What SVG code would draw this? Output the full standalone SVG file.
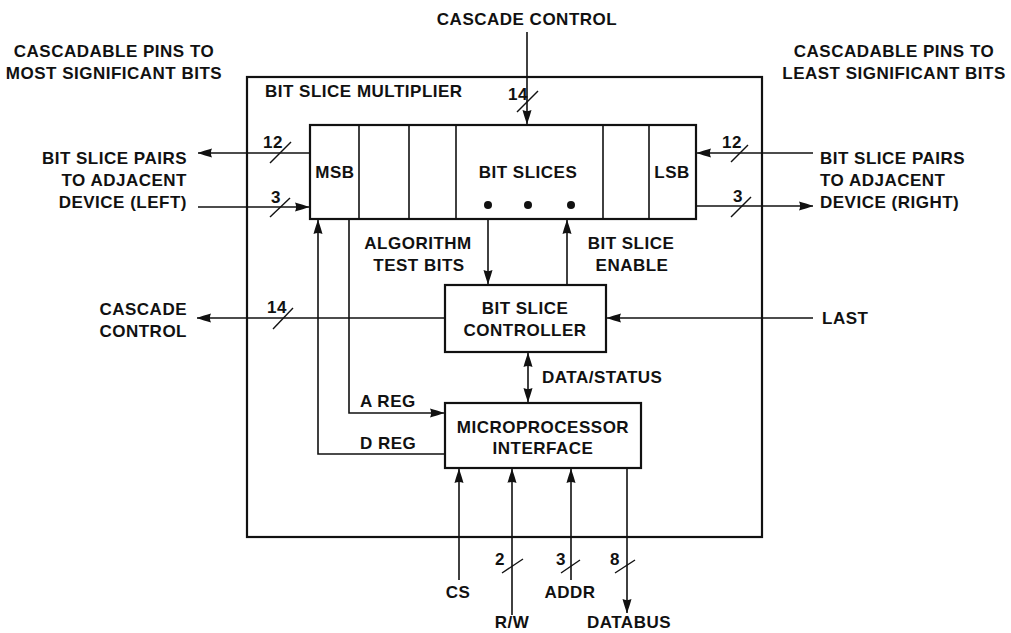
<svg xmlns="http://www.w3.org/2000/svg" width="1011" height="633" viewBox="0 0 1011 633">
<style>
text{font-family:"Liberation Sans",Arial,sans-serif;font-weight:bold;font-size:17px;letter-spacing:0.5px;fill:#111}
.m{text-anchor:middle}
.e{text-anchor:end}
.box{fill:#fff;stroke:#111;stroke-width:2.2}
.ln{fill:none;stroke:#111;stroke-width:1.6}
.sl{fill:none;stroke:#111;stroke-width:1.4}
</style>
<defs>
<marker id="ah" viewBox="0 0 14 10" refX="14" refY="5" markerWidth="14" markerHeight="10" markerUnits="userSpaceOnUse" orient="auto-start-reverse">
<path d="M0,0.5 C4,1.5 10,3.5 14,5 C10,6.5 4,8.5 0,9.5 C1.5,6.5 1.5,3.5 0,0.5 Z" fill="#111"/>
</marker>
</defs>
<rect width="1011" height="633" fill="#fff"/>

<g id="outer">
<rect x="247" y="77" width="515" height="460" fill="none" stroke="#111" stroke-width="2.2"/>
<text x="265" y="97">BIT SLICE MULTIPLIER</text>
</g>

<g id="labels">
<text class="m" x="114" y="57">CASCADABLE PINS TO</text>
<text class="m" x="114" y="79">MOST SIGNIFICANT BITS</text>
<text class="m" x="894" y="57">CASCADABLE PINS TO</text>
<text class="m" x="894" y="79">LEAST SIGNIFICANT BITS</text>
<text class="m" x="527" y="25">CASCADE CONTROL</text>
<text class="e" x="187" y="164">BIT SLICE PAIRS</text>
<text class="e" x="187" y="186">TO ADJACENT</text>
<text class="e" x="187" y="208">DEVICE (LEFT)</text>
<text x="820" y="164">BIT SLICE PAIRS</text>
<text x="820" y="186">TO ADJACENT</text>
<text x="820" y="208">DEVICE (RIGHT)</text>
<text class="e" x="187" y="315">CASCADE</text>
<text class="e" x="187" y="337">CONTROL</text>
<text x="822" y="324">LAST</text>
<text class="m" x="418" y="249">ALGORITHM</text>
<text class="m" x="419" y="271">TEST BITS</text>
<text class="m" x="631" y="249">BIT SLICE</text>
<text class="m" x="632" y="271">ENABLE</text>
<text x="542" y="383">DATA/STATUS</text>
<text x="360" y="407">A REG</text>
<text x="360" y="449">D REG</text>
<text class="m" x="458" y="598">CS</text>
<text class="m" x="512" y="628">R/W</text>
<text class="m" x="570" y="598">ADDR</text>
<text class="m" x="629" y="628">DATABUS</text>
<text x="508" y="100">14</text>
<text x="263" y="148">12</text>
<text x="271" y="203">3</text>
<text x="722" y="148">12</text>
<text x="733" y="202">3</text>
<text x="267" y="313">14</text>
<text x="495" y="565">2</text>
<text x="556" y="565">3</text>
<text x="610" y="565">8</text>
</g>

<g id="bitslices">
<rect class="box" x="310" y="125" width="386" height="94"/>
<line class="ln" x1="359" y1="125" x2="359" y2="219" stroke-width="2"/>
<line class="ln" x1="409" y1="125" x2="409" y2="219" stroke-width="2"/>
<line class="ln" x1="456" y1="125" x2="456" y2="219" stroke-width="2"/>
<line class="ln" x1="603" y1="125" x2="603" y2="219" stroke-width="2"/>
<line class="ln" x1="649" y1="125" x2="649" y2="219" stroke-width="2"/>
<text class="m" x="335" y="178">MSB</text>
<text class="m" x="528" y="178">BIT SLICES</text>
<text class="m" x="672" y="178">LSB</text>
<circle cx="488" cy="205" r="4" fill="#111"/>
<circle cx="528" cy="205" r="4" fill="#111"/>
<circle cx="571" cy="205" r="4" fill="#111"/>
</g>

<g id="controller">
<rect class="box" x="445" y="285" width="161" height="67"/>
<text class="m" x="525" y="314">BIT SLICE</text>
<text class="m" x="525" y="336">CONTROLLER</text>
</g>

<g id="mpi">
<rect class="box" x="445" y="403" width="196" height="65"/>
<text class="m" x="543" y="433">MICROPROCESSOR</text>
<text class="m" x="543" y="454">INTERFACE</text>
</g>

<g id="connectors">
<line class="ln" x1="527" y1="32" x2="527" y2="124" marker-end="url(#ah)"/>
<line class="sl" x1="517" y1="112" x2="538" y2="91"/>
<line class="ln" x1="310" y1="153" x2="198" y2="153" marker-end="url(#ah)"/>
<line class="sl" x1="270" y1="163" x2="291" y2="142"/>
<line class="ln" x1="198" y1="207" x2="309" y2="207" marker-end="url(#ah)"/>
<line class="sl" x1="270" y1="217" x2="290" y2="198"/>
<line class="ln" x1="813" y1="153" x2="697" y2="153" marker-end="url(#ah)"/>
<line class="sl" x1="731" y1="162" x2="748" y2="145"/>
<line class="ln" x1="696" y1="206" x2="813" y2="206" marker-end="url(#ah)"/>
<line class="sl" x1="731" y1="217" x2="751" y2="197"/>
<line class="ln" x1="488" y1="220" x2="488" y2="284" marker-end="url(#ah)"/>
<line class="ln" x1="567" y1="285" x2="567" y2="220" marker-end="url(#ah)"/>
<line class="ln" x1="445" y1="318" x2="197" y2="318" marker-end="url(#ah)"/>
<line class="sl" x1="273" y1="329" x2="293" y2="308"/>
<line class="ln" x1="813" y1="318" x2="607" y2="318" marker-end="url(#ah)"/>
<line class="ln" x1="528" y1="353" x2="528" y2="402" marker-start="url(#ah)" marker-end="url(#ah)"/>
<polyline class="ln" points="349,220 349,413 444,413" marker-end="url(#ah)"/>
<polyline class="ln" points="445,454 318,454 318,220" marker-end="url(#ah)"/>
<line class="ln" x1="459" y1="580" x2="459" y2="469" marker-end="url(#ah)"/>
<line class="ln" x1="512" y1="615" x2="512" y2="469" marker-end="url(#ah)"/>
<line class="sl" x1="502" y1="573" x2="523" y2="559"/>
<line class="ln" x1="571" y1="580" x2="571" y2="469" marker-end="url(#ah)"/>
<line class="sl" x1="561" y1="573" x2="580" y2="560"/>
<line class="ln" x1="627" y1="468" x2="627" y2="613" marker-end="url(#ah)"/>
<line class="sl" x1="615" y1="573" x2="635" y2="560"/>
</g>
</svg>
